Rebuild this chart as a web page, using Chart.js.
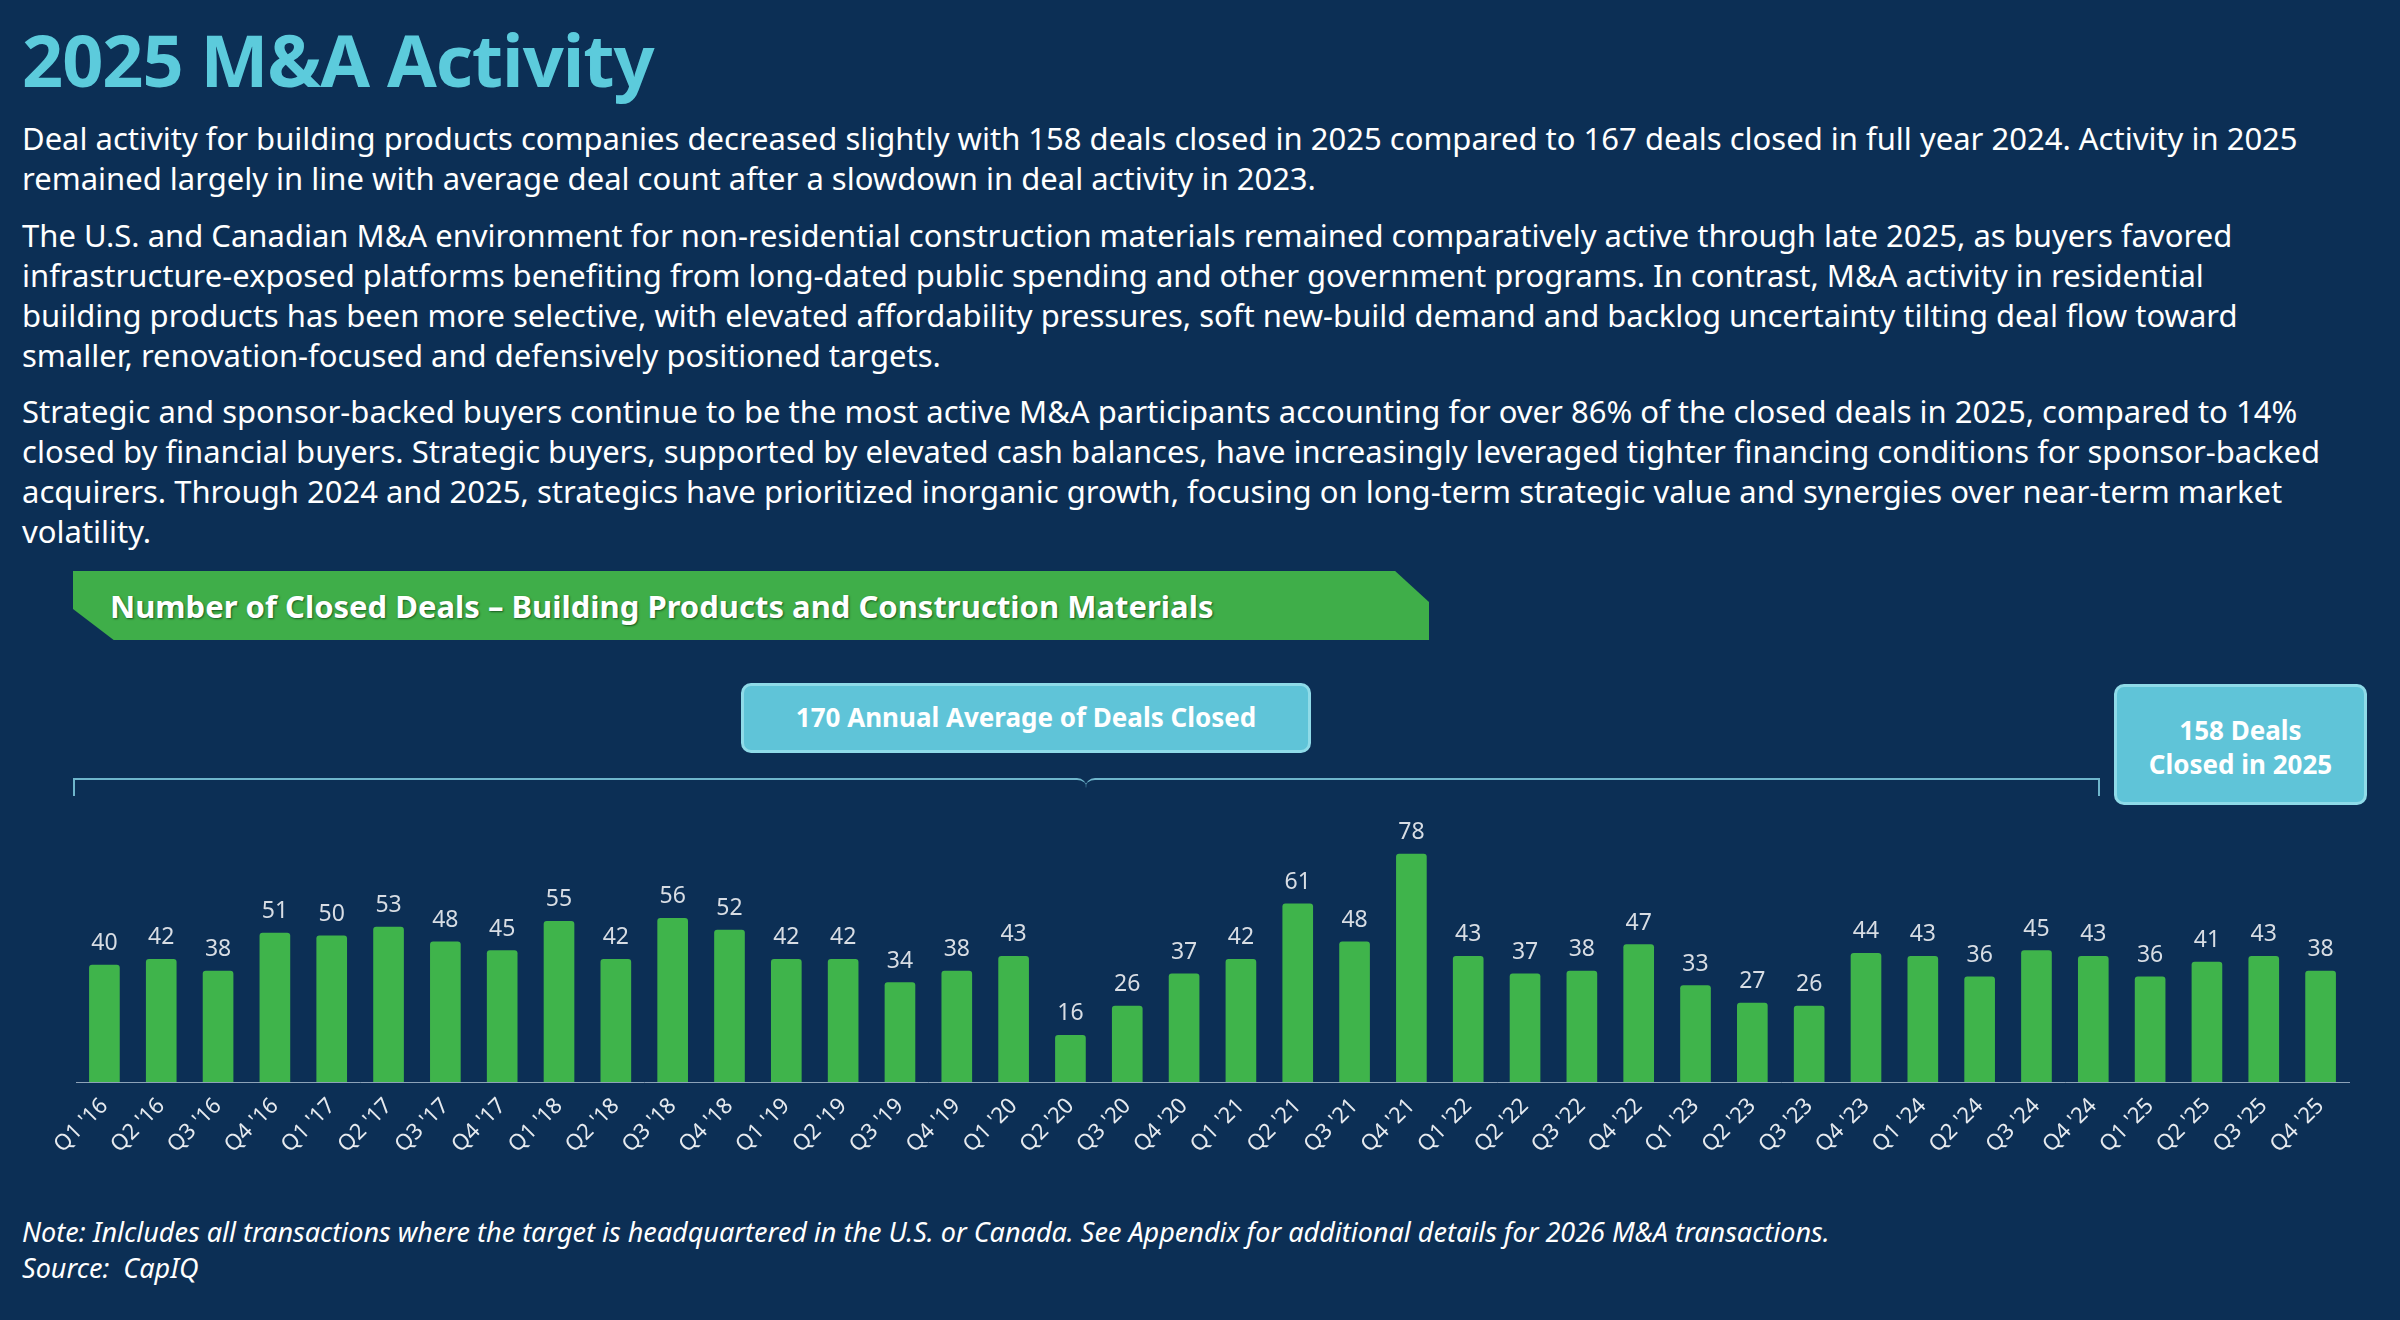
<!DOCTYPE html>
<html>
<head>
<meta charset="utf-8">
<script src="https://cdn.jsdelivr.net/npm/chart.js@4"></script>
<style>
  body { margin:0; width:2400px; height:1320px; background:#0c2f55; font-family:"Noto Sans", sans-serif; color:#fff; position:relative; overflow:hidden; }
  h1 { position:absolute; left:22px; top:10px; margin:0; font-size:72px; font-weight:700; color:#5ccbdc; letter-spacing:-1px; }
  .txt { position:absolute; left:22px; width:2300px; font-size:31px; line-height:40px; }
  .banner { position:absolute; left:73px; top:571px; width:1356px; height:69px; background:#3fae49;
    clip-path: polygon(0 0, 97.5% 0, 100% 45%, 100% 100%, 3% 100%, 0 55%); }
  .banner span { position:absolute; left:37px; top:14px; font-size:31px; font-weight:700; text-shadow:1px 1px 2px #1a5a20; }
  .box { position:absolute; background:#5fc4d8; border:3px solid #8fdbe8; border-radius:10px; text-align:center; font-weight:700; font-size:26px; color:#fff; box-sizing:border-box; }
  .brk { position:absolute; border:2px solid #6fb6cc; border-bottom:none; }
  .note { position:absolute; left:22px; top:1214px; font-size:27px; line-height:36px; font-style:italic; }
  #wrap { position:absolute; left:0; top:800px; width:2400px; height:380px; }
</style>
</head>
<body>
<h1>2025 M&amp;A Activity</h1>
<div class="txt" style="top:118px">Deal activity for building products companies decreased slightly with 158 deals closed in 2025 compared to 167 deals closed in full year 2024. Activity in 2025 remained largely in line with average deal count after a slowdown in deal activity in 2023.</div>
<div class="txt" style="top:215px">The U.S. and Canadian M&amp;A environment for non-residential construction materials remained comparatively active through late 2025, as buyers favored infrastructure-exposed platforms benefiting from long-dated public spending and other government programs. In contrast, M&amp;A activity in residential building products has been more selective, with elevated affordability pressures, soft new-build demand and backlog uncertainty tilting deal flow toward smaller, renovation-focused and defensively positioned targets.</div>
<div class="txt" style="top:391px">Strategic and sponsor-backed buyers continue to be the most active M&amp;A participants accounting for over 86% of the closed deals in 2025, compared to 14% closed by financial buyers. Strategic buyers, supported by elevated cash balances, have increasingly leveraged tighter financing conditions for sponsor-backed acquirers. Through 2024 and 2025, strategics have prioritized inorganic growth, focusing on long-term strategic value and synergies over near-term market volatility.</div>
<div class="banner"><span>Number of Closed Deals – Building Products and Construction Materials</span></div>
<div class="brk" style="left:73px; top:778px; width:1012px; height:16px; border-right:none; border-top-right-radius:10px;"></div>
<div class="brk" style="left:1085px; top:778px; width:1013px; height:16px; border-left:none; border-top-left-radius:10px;"></div>
<div class="box" style="left:741px; top:683px; width:570px; height:70px; line-height:62px;">170 Annual Average of Deals Closed</div>
<div class="box" style="left:2114px; top:684px; width:253px; height:121px; padding-top:26px; line-height:34px;">158 Deals<br>Closed in 2025</div>
<div id="wrap"><canvas id="myChart"></canvas></div>
<div class="note">Note: Inlcludes all transactions where the target is headquartered in the U.S. or Canada. See Appendix for additional details for 2026 M&amp;A transactions.<br>Source:&nbsp; CapIQ</div>
<script>
const quarters = ["Q1 '16","Q2 '16","Q3 '16","Q4 '16","Q1 '17","Q2 '17","Q3 '17","Q4 '17","Q1 '18","Q2 '18","Q3 '18","Q4 '18","Q1 '19","Q2 '19","Q3 '19","Q4 '19","Q1 '20","Q2 '20","Q3 '20","Q4 '20","Q1 '21","Q2 '21","Q3 '21","Q4 '21","Q1 '22","Q2 '22","Q3 '22","Q4 '22","Q1 '23","Q2 '23","Q3 '23","Q4 '23","Q1 '24","Q2 '24","Q3 '24","Q4 '24","Q1 '25","Q2 '25","Q3 '25","Q4 '25"];
const deals = [40,42,38,51,50,53,48,45,55,42,56,52,42,42,34,38,43,16,26,37,42,61,48,78,43,37,38,47,33,27,26,44,43,36,45,43,36,41,43,38];

// value labels above each bar
const barLabels = {
  id: 'barLabels',
  afterDatasetsDraw(chart) {
    const ctx = chart.ctx;
    ctx.save();
    ctx.fillStyle = '#d8dde4';
    ctx.font = '23px "Noto Sans"';
    ctx.textAlign = 'center';
    ctx.textBaseline = 'bottom';
    chart.getDatasetMeta(0).data.forEach((bar, i) => {
      ctx.fillText(deals[i], bar.x, bar.y - 10);
    });
    ctx.restore();
  }
};

new Chart(document.getElementById('myChart'), {
  type: 'bar',
  data: {
    labels: quarters,
    datasets: [{ data: deals, backgroundColor: '#3fb44b', barThickness: 30, borderRadius: 3 }]
  },
  options: {
    responsive: true,
    maintainAspectRatio: false,
    animation: false,
    layout: { padding: { left: 76, right: 51, top: 19 } },
    plugins: { legend: { display: false }, tooltip: { enabled: false } },
    scales: {
      x: {
        grid: { display: false },
        border: { color: '#8da2b8' },
        ticks: { color: '#e6eaef', font: { size: 22, family: 'Noto Sans' }, maxRotation: 45, minRotation: 45, autoSkip: false },
        afterFit: s => { s.height = 98; }
      },
      y: { display: false, min: 0, max: 90 }
    }
  },
  plugins: [barLabels]
});
</script>
</body>
</html>
